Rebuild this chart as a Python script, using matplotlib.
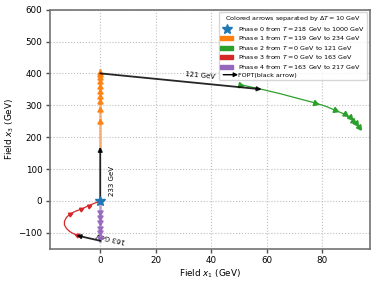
import numpy as np
import matplotlib
matplotlib.use("Agg")
import matplotlib.pyplot as plt
from matplotlib.patches import Patch, FancyArrowPatch
from matplotlib.lines import Line2D
from matplotlib.legend_handler import HandlerPatch

# phase paths, ordered along decreasing T (arrow direction)
p1_x = [0, 0, 0, 0, 0, 0, 0, 0, 0, 0, 0, 0]
p1_y = [170, 248, 285, 311, 326, 342, 358, 374, 384, 395, 400, 410]
p1_arrows = [1, 2, 3, 4, 5, 6, 7, 8, 9, 10]

p2_x = [50.4, 54.5, 58.2, 65, 71, 77.3, 81.5, 84.5, 88.1, 89.9, 91.1, 92.3, 93.3]
p2_y = [365, 357, 350, 336, 322, 307.7, 296, 284.8, 272, 262, 251, 243, 231]
p2_arrows = [0, 5, 7, 8, 9, 10, 11, 12]

p3_x = [-8.4, -9.6, -11.0, -12.2, -12.9, -12.9, -12.2, -10.8, -8.8, -6.8, -4.2, -2.0, 0]
p3_y = [-107, -103, -96, -86, -75, -64, -52, -40, -32, -25.6, -15, -7, 0]
p3_arrows = [0, 7, 9, 10]

p4_x = [0, 0, 0, 0, 0, 0, 0, 0]
p4_y = [0, -36, -50, -65, -86, -99, -117, -125]
p4_arrows = [1, 2, 3, 4, 5, 6]

# first-order transitions: (start, end, label, label pos, rotation)
fopt = [
    ((0, 0), (0, 170), "233 GeV", (4.3, 62), 90),
    ((0, 400), (58.2, 350), "121 GeV", (36, 395), -5.5),
    ((0, -125), (-8.6, -108), "163 GeV", (3.8, -115), 167),
]

labels = [
    r"Phase 0 from $T = 218$ GeV to 1000 GeV",
    r"Phase 1 from $T = 119$ GeV to 234 GeV",
    r"Phase 2 from $T = 0$ GeV to 121 GeV",
    r"Phase 3 from $T = 0$ GeV to 163 GeV",
    r"Phase 4 from $T = 163$ GeV to 217 GeV",
    "FOPT(black arrow)",
]

plt.rcParams['font.size'] = 6.3

fig = plt.figure(figsize=(3.8, 2.83), dpi=100)
ax = fig.add_axes([0.1316, 0.121, 0.842, 0.845])
ax.set_xlim(-18.1, 97.2)
ax.set_ylim(-150, 600)
ax.set_xticks([0, 20, 40, 60, 80])
ax.set_yticks(np.arange(-100, 601, 100))
ax.grid(True, linestyle=':', color='0.75', linewidth=0.8)
ax.set_axisbelow(True)
for s in ax.spines.values():
    s.set_color('0.45')
    s.set_linewidth(1.2)
ax.tick_params(colors='0.3', labelcolor='k', length=3, width=1, pad=2.5)


def draw_phase(xs, ys, idx, color, lw, alpha, ms):
    ax.plot(xs, ys, color=color, lw=lw, alpha=alpha, zorder=3)
    pts = ax.transData.transform(np.column_stack([xs, ys]))
    for i in idx:
        j0, j1 = (i, i + 1) if i + 1 < len(xs) else (i - 1, i)
        d = pts[j1] - pts[j0]
        ang = np.degrees(np.arctan2(d[1], d[0]))
        ax.plot(xs[i], ys[i], marker=(3, 0, ang - 90), color=color,
                ms=ms, alpha=min(1, alpha + 0.3), zorder=4, lw=0)


draw_phase(p1_x, p1_y, p1_arrows, 'C1', 2.0, 0.55, 4.5)
draw_phase(p2_x, p2_y, p2_arrows, 'C2', 0.9, 1.0, 4.5)
draw_phase(p3_x, p3_y, p3_arrows, 'C3', 0.9, 1.0, 3.5)
draw_phase(p4_x, p4_y, p4_arrows, 'C4', 2.0, 0.55, 4.5)

for (a, b, txt, tp, rot) in fopt:
    ax.annotate('', xy=b, xytext=a,
                arrowprops=dict(arrowstyle='-|>', color='k', lw=1.3,
                                mutation_scale=6, shrinkA=0, shrinkB=0, alpha=0.85),
                zorder=5)
    ax.text(tp[0], tp[1], txt, rotation=rot, fontsize=5, ha='center', va='center',
            rotation_mode='anchor')

ax.plot(0, 0, marker='*', color='C0', ms=7, lw=0, zorder=6)

ax.set_xlabel(r"Field $x_1$ (GeV)", labelpad=1.5)
ax.set_ylabel(r"Field $x_3$ (GeV)", labelpad=1.5)


class ArrowHandle:
    pass


class HandlerArrow(HandlerPatch):
    def create_artists(self, legend, orig_handle, xdescent, ydescent,
                       width, height, fontsize, trans):
        p = FancyArrowPatch((-xdescent, height / 2 - ydescent),
                            (-xdescent + width * 1.6, height / 2 - ydescent),
                            arrowstyle='-|>', mutation_scale=6, lw=1, color='k')
        p.set_transform(trans)
        return [p]


handles = [
    Line2D([], [], marker='*', color='C0', ms=7, lw=0),
    Patch(color='C1'), Patch(color='C2'), Patch(color='C3'), Patch(color='C4'),
    ArrowHandle(),
]
ax.legend(handles, labels, loc='upper right', fontsize=4.6, title_fontsize=4.6,
          title=r"Colored arrows separated by $\Delta T = 10$ GeV",
          handler_map={ArrowHandle: HandlerArrow()}, handleheight=0.6,
          labelspacing=0.25, borderaxespad=0.4, borderpad=0.3)

fig.savefig("out.png", dpi=100)
